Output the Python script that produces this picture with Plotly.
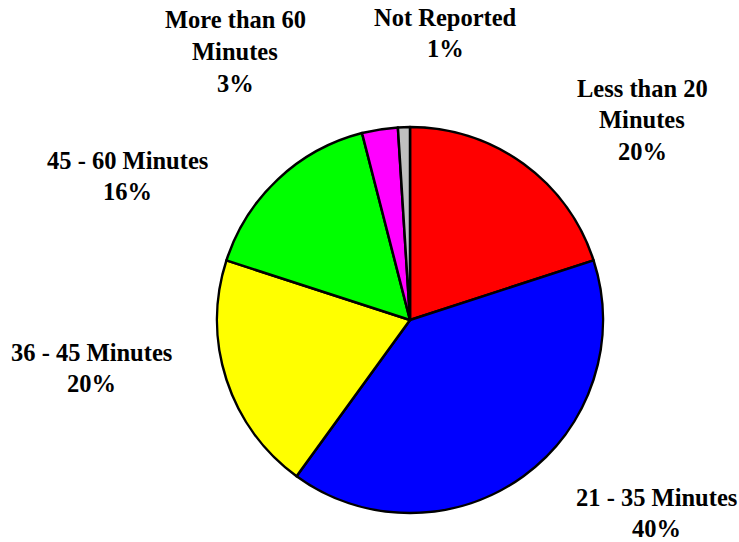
import plotly.graph_objects as go

categories = ["Less than 20 Minutes", "21 - 35 Minutes", "36 - 45 Minutes",
              "45 - 60 Minutes", "More than 60 Minutes", "Not Reported"]
label_lines = [["Less than 20", "Minutes"], ["21 - 35 Minutes"], ["36 - 45 Minutes"],
               ["45 - 60 Minutes"], ["More than 60", "Minutes"], ["Not Reported"]]
values = [20, 40, 20, 16, 3, 1]
colors = ["#FF0000", "#0000FF", "#FFFF00", "#00FF00", "#FF00FF", "#C0C0C0"]

W, H = 739, 542
# label block anchor (center x, first-line center y) in pixels
label_pos = [(642, 88), (656, 497), (91, 352), (127, 160), (235, 20), (446, 17)]
line_gap = 31.5
cx0, cy0, R = 410, 320, 193

fig = go.Figure(go.Pie(
    labels=categories, values=values, sort=False, direction="clockwise",
    rotation=0, textinfo="none", hoverinfo="label+percent",
    marker=dict(colors=colors, line=dict(color="black", width=2.5)),
    domain=dict(x=[(cx0 - R) / W, (cx0 + R) / W],
                y=[(H - cy0 - R) / H, (H - cy0 + R) / H]),
    showlegend=False,
))

total = sum(values)
anns = []
for lines, v, (cx, cy) in zip(label_lines, values, label_pos):
    all_lines = lines + [f"{round(100 * v / total)}%"]
    for i, t in enumerate(all_lines):
        y = cy + i * line_gap
        anns.append(dict(text=f"<b>{t}</b>", x=cx / W, y=1 - y / H,
                         xref="paper", yref="paper", xanchor="center", yanchor="middle",
                         showarrow=False,
                         font=dict(family="Liberation Serif", size=24.5, color="black")))

fig.update_layout(width=W, height=H, margin=dict(l=0, r=0, t=0, b=0),
                  paper_bgcolor="white", plot_bgcolor="white", annotations=anns)
fig.write_html("out.html", config={"displayModeBar": False},
               post_script="document.body.style.margin='0';document.body.style.overflow='hidden';")
